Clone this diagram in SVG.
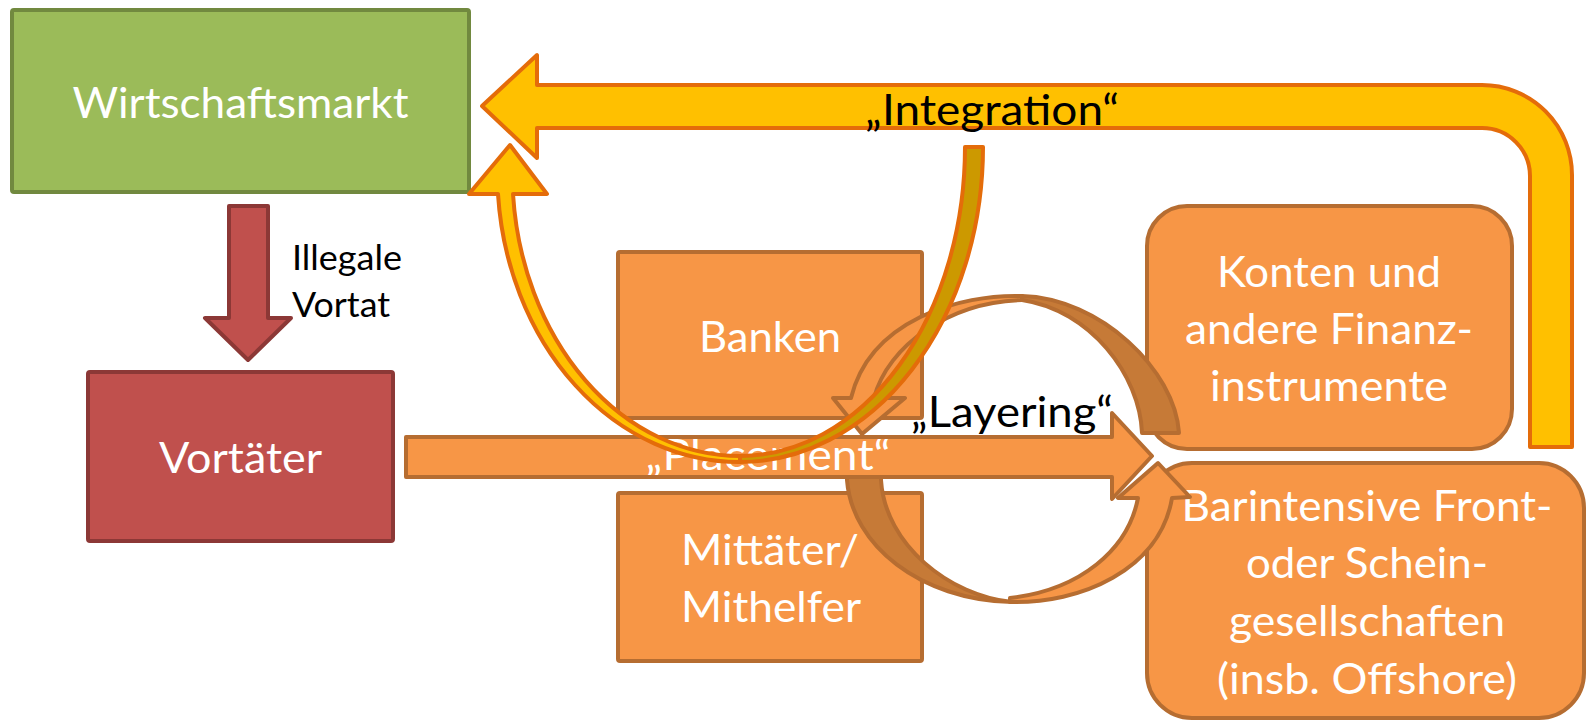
<svg xmlns="http://www.w3.org/2000/svg" width="1587" height="721" viewBox="0 0 1587 721">
<defs>
<style>
.t{font-family:Lato,"Open Sans","Liberation Sans",sans-serif;font-size:43px;text-anchor:middle}
.s{font-family:Lato,"Open Sans","Liberation Sans",sans-serif;font-size:34px;fill:#000}
.w{fill:#fff}
.k{fill:#000}
.og{fill:#F79646;stroke:#B66D31;stroke-width:4;stroke-linejoin:round}
.dk{fill:#C67A37;stroke:#B66D31;stroke-width:4;stroke-linejoin:round}
.yl{fill:#FFC000;stroke:#E46C0A;stroke-width:4;stroke-linejoin:round}
.gd{fill:#CC9900;stroke:#E46C0A;stroke-width:4;stroke-linejoin:round}
.rd{fill:#C0504D;stroke:#8C3836;stroke-width:4;stroke-linejoin:round}
</style>
<path id="plc" d="M406 437 L1112 437 L1112 413 L1152 456 L1112 499 L1112 477 L406 477 Z"/>
</defs>
<rect width="1587" height="721" fill="#fff"/>

<g id="wirtschaftsmarkt">
<rect x="12" y="10" width="457" height="182" rx="2" fill="#9BBB59" stroke="#71893F" stroke-width="4"/>
<text class="t w" x="240.5" y="118" textLength="336" lengthAdjust="spacingAndGlyphs">Wirtschaftsmarkt</text>
</g>

<g id="vortaeter">
<rect x="88" y="372" width="305" height="169" rx="2" class="rd"/>
<text class="t w" x="240.5" y="473" textLength="163" lengthAdjust="spacingAndGlyphs">Vortäter</text>
</g>

<g id="banken">
<rect x="618" y="252" width="304" height="166" rx="2" class="og"/>
<text class="t w" x="770" y="352" textLength="142" lengthAdjust="spacingAndGlyphs">Banken</text>
</g>

<g id="mittaeter">
<rect x="618" y="493" width="304" height="168" rx="2" class="og"/>
<text class="t w" x="770" y="565" textLength="178" lengthAdjust="spacingAndGlyphs">Mittäter/</text>
<text class="t w" x="771" y="622" textLength="180" lengthAdjust="spacingAndGlyphs">Mithelfer</text>
</g>

<g id="konten">
<rect x="1147" y="206" width="365" height="243" rx="40" class="og"/>
<text class="t w" x="1329" y="287" textLength="224" lengthAdjust="spacingAndGlyphs">Konten und</text>
<text class="t w" x="1329" y="344" textLength="288" lengthAdjust="spacingAndGlyphs">andere Finanz-</text>
<text class="t w" x="1329" y="401" textLength="238" lengthAdjust="spacingAndGlyphs">instrumente</text>
</g>

<g id="barintensive">
<rect x="1147" y="463" width="437" height="255" rx="45" class="og"/>
<text class="t w" x="1367" y="521" textLength="371" lengthAdjust="spacingAndGlyphs">Barintensive Front-</text>
<text class="t w" x="1367" y="578" textLength="242" lengthAdjust="spacingAndGlyphs">oder Schein-</text>
<text class="t w" x="1367" y="636" textLength="276" lengthAdjust="spacingAndGlyphs">gesellschaften</text>
<text class="t w" x="1367" y="694" textLength="300" lengthAdjust="spacingAndGlyphs">(insb. Offshore)</text>
</g>

<g id="connectors">
<!-- Illegale Vortat -->
<path class="rd" d="M229 206 L268 206 L268 318 L291 318 L248 360 L205 318 L229 318 Z"/>
<text class="s" x="292" y="270" textLength="110" lengthAdjust="spacingAndGlyphs">Illegale</text>
<text class="s" x="292" y="317" textLength="98" lengthAdjust="spacingAndGlyphs">Vortat</text>

<!-- Layering circular arrows -->
<path class="dk" d="M1022 296 C1100 298 1175 370 1179 433 L1142 433 C1140 375 1090 310 1022 300 Z"/>
<path class="og" d="M1022 296 C960 294 870 320 851 398 L833 398 L862 434 L905 398 L874 398 C888 345 950 302 1022 300 Z"/>
<path class="dk" d="M847 465 L847 480 C852 545 920 600 1012 602 C950 596 885 545 881 480 L881 465 Z"/>
<path class="og" d="M1010 602 C1080 604 1160 570 1172 498 L1190 497 L1158 463 L1118 498 L1138 498 C1128 550 1080 590 1010 598 Z"/>

<!-- Placement arrow -->
<use href="#plc" fill="#F79646"/>
<text class="t w" x="768" y="470" textLength="245" lengthAdjust="spacingAndGlyphs">„Placement“</text>
<use href="#plc" fill="none" stroke="#B66D31" stroke-width="4" stroke-linejoin="round"/>

<!-- Integration big arrow -->
<path class="yl" d="M1530 447 L1530 176 A48 48 0 0 0 1482 128 L537 128 L537 158 L482 106 L537 55 L537 85 L1482 85 A90 90 0 0 1 1572 175 L1572 447 Z"/>
<text class="t k" x="992" y="125" textLength="254" lengthAdjust="spacingAndGlyphs">„Integration“</text>

<!-- Layering label -->
<text class="t k" x="1012" y="427" textLength="202" lengthAdjust="spacingAndGlyphs">„Layering“</text>

<!-- Integration curved arrow -->
<path class="gd" d="M965 147 L983 147 A243 315 0 0 1 740 462 L740 456 A225 309 0 0 0 965 147 Z"/>
<path class="yl" d="M740 462 A242 290 0 0 1 498 194 L469 194 L510 145 L547 194 L513 194 A228 284 0 0 0 740 456 Z"/>
</g>
</svg>
